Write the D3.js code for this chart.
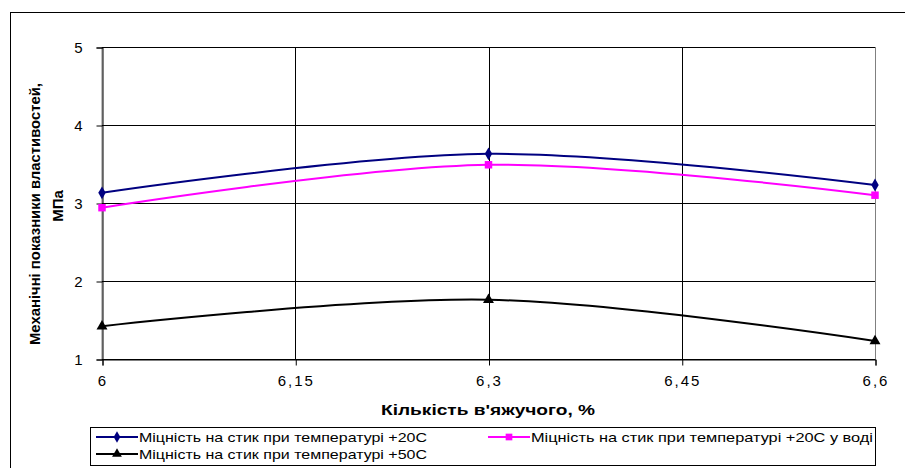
<!DOCTYPE html>
<html>
<head>
<meta charset="utf-8">
<script src="https://cdn.jsdelivr.net/npm/d3@7"></script>
<style>
  body { margin: 0; background: #fff; }
  svg { display: block; font-family: "Liberation Sans", Arial, sans-serif; }
</style>
</head>
<body>
<svg id="chart" width="905" height="468"></svg>
<script>
const xValues = [6, 6.3, 6.6];
const xTicks = [6, 6.15, 6.3, 6.45, 6.6];
const yTicks = [1, 2, 3, 4, 5];
const series20 = [3.13, 3.63, 3.23];
const series20Water = [2.94, 3.49, 3.10];
const series50 = [1.42, 1.76, 1.23];
const seriesNames = [
  'Міцність на стик при температурі +20С',
  'Міцність на стик при температурі +20С у воді',
  'Міцність на стик при температурі +50С'
];

const svg = d3.select('#chart');
const plot = { left: 102, right: 875, top: 47, bottom: 359 };

const xScale = d3.scaleLinear().domain([6, 6.6]).range([plot.left, plot.right]);
const yScale = d3.scaleLinear().domain([1, 5]).range([plot.bottom, plot.top]);

// outer chart frame
svg.append('rect')
  .attr('x', 10.5).attr('y', 12.5)
  .attr('width', 905).attr('height', 470)
  .attr('fill', 'none').attr('stroke', '#000');

// plot border (grey)
svg.append('rect')
  .attr('x', plot.left).attr('y', plot.top + 0.5)
  .attr('width', plot.right - plot.left + 0.5).attr('height', plot.bottom - plot.top)
  .attr('fill', 'none').attr('stroke', '#808080');

// grid
svg.append('g')
  .selectAll('line')
  .data(yTicks)
  .join('line')
  .attr('x1', plot.left).attr('x2', plot.right)
  .attr('y1', (d) => Math.round(yScale(d)) + 0.5)
  .attr('y2', (d) => Math.round(yScale(d)) + 0.5)
  .attr('stroke', '#000');

svg.append('g')
  .selectAll('line')
  .data(xTicks.slice(1, -1))
  .join('line')
  .attr('x1', (d) => Math.round(xScale(d)) + 0.5)
  .attr('x2', (d) => Math.round(xScale(d)) + 0.5)
  .attr('y1', plot.top).attr('y2', plot.bottom)
  .attr('stroke', '#000');

// axes
const fmt = (d) => String(d).replace('.', ',');
const styleTicks = (g) => {
  g.select('.domain').attr('stroke', '#000');
  g.selectAll('text')
    .attr('font-size', 15)
    .attr('letter-spacing', 2)
    .attr('fill', '#000')
    .attr('font-family', 'Liberation Sans, Arial');
};

svg.append('g')
  .attr('transform', `translate(${plot.left + 0.5}, 0.5)`)
  .call(d3.axisLeft(yScale).tickValues(yTicks).tickSize(6).tickPadding(14).tickFormat(fmt))
  .call(styleTicks)
  .call((g) => g.selectAll('text').attr('letter-spacing', 0));

svg.append('g')
  .attr('transform', `translate(0.5, ${plot.bottom + 0.5})`)
  .call(d3.axisBottom(xScale).tickValues(xTicks).tickSize(6).tickPadding(10).tickFormat(fmt))
  .call(styleTicks);

// axis titles
svg.append('text')
  .attr('x', 488).attr('y', 415)
  .attr('text-anchor', 'middle')
  .attr('font-size', 15).attr('font-weight', 'bold')
  .attr('textLength', 214).attr('lengthAdjust', 'spacingAndGlyphs')
  .text("Кількість в'яжучого, %");

const yTitle = svg.append('text')
  .attr('transform', 'translate(40, 214) rotate(-90)')
  .attr('text-anchor', 'middle')
  .attr('font-size', 15).attr('font-weight', 'bold')
  .attr('font-family', 'Liberation Sans Narrow, Liberation Sans, Arial');
yTitle.append('tspan').attr('x', 0).attr('y', 0)
  .attr('textLength', 262).attr('lengthAdjust', 'spacingAndGlyphs')
  .text('Механічні показники властивостей,');
yTitle.append('tspan').attr('x', 8).attr('y', 23).text('МПа');

// series
const allSeries = [
  { values: series20, color: '#000080', symbol: d3.symbolDiamond, size: 48 },
  { values: series20Water, color: '#FF00FF', symbol: d3.symbolSquare, size: 56 },
  { values: series50, color: '#000000', symbol: d3.symbolTriangle, size: 52 }
];

const line = d3.line()
  .x((d, i) => xScale(xValues[i]))
  .y((d) => yScale(d))
  .curve(d3.curveCatmullRom.alpha(0.5));

allSeries.forEach((s) => {
  svg.append('path')
    .datum(s.values)
    .attr('d', line)
    .attr('fill', 'none')
    .attr('stroke', s.color)
    .attr('stroke-width', 2);

  svg.append('g')
    .selectAll('path')
    .data(s.values)
    .join('path')
    .attr('transform', (d, i) => `translate(${xScale(xValues[i])}, ${yScale(d)})`)
    .attr('d', d3.symbol().type(s.symbol).size(s.size))
    .attr('fill', s.color);
});

// legend
svg.append('rect')
  .attr('x', 90.5).attr('y', 427.5)
  .attr('width', 785).attr('height', 38)
  .attr('fill', '#fff').attr('stroke', '#000');

const legendPos = [
  { x: 96, y: 437, w: 288 },
  { x: 488, y: 437, w: 342 },
  { x: 96, y: 454, w: 288 }
];

allSeries.forEach((s, i) => {
  const p = legendPos[i];
  const g = svg.append('g').attr('transform', `translate(${p.x}, ${p.y})`);
  g.append('line')
    .attr('x1', 0).attr('x2', 42)
    .attr('stroke', s.color).attr('stroke-width', 2);
  g.append('path')
    .attr('transform', 'translate(21, 0)')
    .attr('d', d3.symbol().type(s.symbol).size(s.size * 0.8))
    .attr('fill', s.color);
  g.append('text')
    .attr('x', 43).attr('y', 5)
    .attr('font-size', 13)
    .attr('textLength', p.w).attr('lengthAdjust', 'spacingAndGlyphs')
    .text(seriesNames[i]);
});
</script>
</body>
</html>
